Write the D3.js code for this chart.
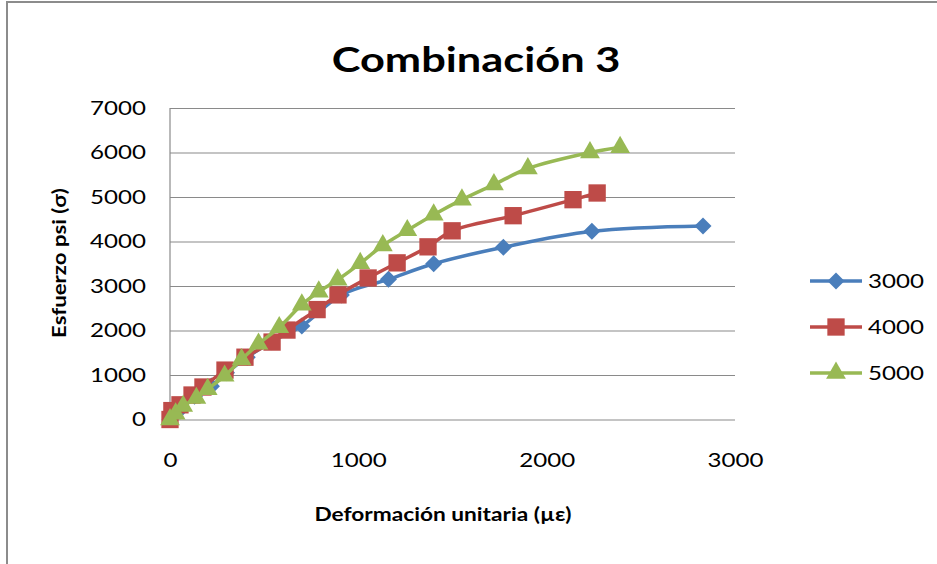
<!DOCTYPE html>
<html>
<head>
<meta charset="utf-8">
<script src="https://cdn.jsdelivr.net/npm/d3@7"></script>
<style>
  body { margin: 0; background: #fff; }
  svg { display: block; }
  text { font-family: Lato, "Open Sans", sans-serif; fill: #000; }
</style>
</head>
<body>
<svg width="937" height="564"></svg>
<script>
// datos
var seriesNames = ['3000', '4000', '5000'];
var colors = ['#4a7ebb', '#be4b48', '#98b954'];

var strain3000 = [0, 60, 130, 220, 300, 410, 540, 700, 910, 1160, 1400, 1770, 2240, 2830];
var stress3000 = [0, 250, 520, 750, 1050, 1400, 1750, 2100, 2800, 3150, 3500, 3870, 4230, 4350];

var strain4000 = [0, 10, 53, 117, 175, 292, 398, 542, 621, 781, 892, 1052, 1206, 1370, 1498, 1822, 2140, 2268];
var stress4000 = [0, 200, 330, 550, 730, 1110, 1400, 1740, 2010, 2470, 2800, 3180, 3520, 3880, 4240, 4580, 4940, 5090];

var strain5000 = [0, 30, 70, 140, 200, 290, 380, 470, 580, 700, 790, 890, 1010, 1130, 1260, 1400, 1550, 1720, 1900, 2230, 2390];
var stress5000 = [0, 130, 300, 480, 680, 980, 1350, 1700, 2070, 2580, 2870, 3140, 3510, 3910, 4250, 4600, 4940, 5280, 5640, 6000, 6120];

var xTicks = [0, 1000, 2000, 3000];
var yTicks = [0, 1000, 2000, 3000, 4000, 5000, 6000, 7000];

var strains = [strain3000, strain4000, strain5000];
var stresses = [stress3000, stress4000, stress5000];
// el rombo es un cuadrado girado 45 grados
var symbols = [d3.symbolSquare, d3.symbolSquare, d3.symbolTriangle];
var symSizes = [145, 300, 170];
var symRot = [45, 0, 0];

var sx = 1.27; // el texto del original es mas ancho

var svg = d3.select('svg');

// marco
svg.append('path')
  .attr('d', 'M7,564 L7,2 L937,2')
  .attr('fill', 'none').attr('stroke', '#8c8c8c').attr('stroke-width', 2);

var x = d3.scaleLinear().domain([0, 3000]).range([170, 735]);
var y = d3.scaleLinear().domain([0, 7000]).range([419.5, 108]);

// rejilla y eje y
var gy = svg.append('g').attr('transform', 'translate(170,0)')
  .call(d3.axisLeft(y).tickValues(yTicks).tickSize(-565).tickPadding(19).tickFormat(d3.format('d')));
gy.select('.domain').remove();
gy.selectAll('.tick line').attr('stroke', '#8a8a8a').attr('stroke-width', 1.2);
gy.selectAll('.tick text').attr('font-size', 19).attr('font-family', 'Lato, sans-serif').attr('fill', '#000')
  .attr('transform', 'scale(' + sx + ',1)');
svg.append('line').attr('x1', 170).attr('x2', 170).attr('y1', 108).attr('y2', 420)
  .attr('stroke', '#8a8a8a').attr('stroke-width', 1.2);

// eje x
var gx = svg.append('g').attr('transform', 'translate(0,420)')
  .call(d3.axisBottom(x).tickValues(xTicks).tickSize(0).tickPadding(34).tickFormat(d3.format('d')));
gx.select('.domain').remove();
gx.selectAll('.tick text').attr('font-size', 19).attr('font-family', 'Lato, sans-serif').attr('fill', '#000')
  .attr('transform', 'scale(' + sx + ',1)');

// series
var line = d3.line().curve(d3.curveCatmullRom.alpha(0.5));
for (var i = 0; i < 3; i++) {
  var pts = strains[i].map(function(v, j) { return [x(v), y(stresses[i][j])]; });
  svg.append('path').attr('d', line(pts))
    .attr('fill', 'none').attr('stroke', colors[i]).attr('stroke-width', 3.5)
    .attr('stroke-linejoin', 'round');
  svg.append('g').selectAll('path').data(pts).enter().append('path')
    .attr('transform', function(d) { return 'translate(' + d[0] + ',' + d[1] + ') rotate(' + symRot[i] + ')'; })
    .attr('d', d3.symbol().type(symbols[i]).size(symSizes[i]))
    .attr('fill', colors[i]);
}

// titulos
svg.append('text').attr('transform', 'translate(476,72) scale(1.24,1)').attr('text-anchor', 'middle')
  .attr('font-size', 35).attr('font-weight', 'bold').text('Combinación 3');
svg.append('text').attr('transform', 'translate(443,521) scale(1.26,1)').attr('text-anchor', 'middle')
  .attr('font-size', 18).attr('font-weight', 'bold').text('Deformación unitaria (µε)');
svg.append('text').attr('transform', 'translate(66,263) rotate(-90) scale(1.23,1)').attr('text-anchor', 'middle')
  .attr('font-size', 18).attr('font-weight', 'bold').text('Esfuerzo psi (σ)');

// leyenda
var leg = svg.append('g').selectAll('g').data(seriesNames).enter().append('g')
  .attr('transform', function(d, i) { return 'translate(810,' + (281 + i * 46) + ')'; });
leg.append('line').attr('x1', 0).attr('x2', 52).attr('y1', 0).attr('y2', 0)
  .attr('stroke', function(d, i) { return colors[i]; }).attr('stroke-width', 3.5);
leg.append('path').attr('transform', function(d, i) { return 'translate(26,0) rotate(' + symRot[i] + ')'; })
  .attr('d', function(d, i) { return d3.symbol().type(symbols[i]).size(symSizes[i])(); })
  .attr('fill', function(d, i) { return colors[i]; });
leg.append('text').attr('transform', 'translate(58,7) scale(' + sx + ',1)').attr('font-size', 19)
  .text(function(d) { return d; });
</script>
</body>
</html>
